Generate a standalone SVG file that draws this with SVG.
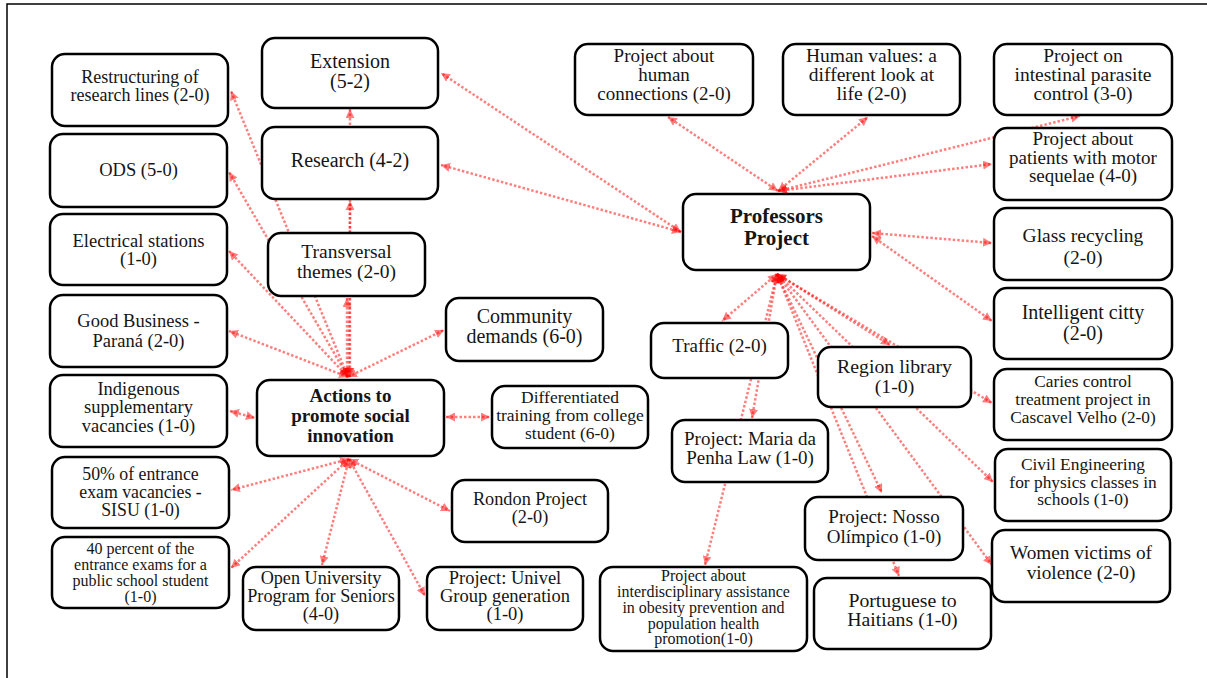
<svg xmlns="http://www.w3.org/2000/svg" width="1207" height="678" viewBox="0 0 1207 678">
<defs>
<style>
.n rect{fill:#fff;stroke:#000;stroke-width:2.5}
.n text{font-family:"Liberation Serif","Times New Roman",serif;fill:#151515;text-anchor:middle}
.b text{font-weight:bold}
#connectors line{stroke:#ff0000;stroke-opacity:0.5;stroke-width:2.5;stroke-dasharray:2.5 2;fill:none;marker-start:url(#a);marker-end:url(#a)}
.frame{stroke:#000;stroke-width:1.5;fill:none}
</style>
<marker id="a" viewBox="0 0 10 10" refX="10" refY="5" markerWidth="9" markerHeight="9" markerUnits="userSpaceOnUse" orient="auto-start-reverse">
<path d="M0,0 L10,5 L0,10 z" fill="#ff0000" fill-opacity="0.5"/>
</marker>
</defs>
<rect width="1207" height="678" fill="#fff"/>
<path class="frame" d="M7,678 L7,4 L1207,4"/>

<g id="connectors">
<!-- Actions top hub -->
<line x1="348" y1="377" x2="231" y2="91"/>
<line x1="348" y1="377" x2="229" y2="172"/>
<line x1="348" y1="377" x2="229" y2="251"/>
<line x1="348" y1="377" x2="229" y2="331"/>
<line x1="347" y1="377" x2="347" y2="298"/>
<line x1="349" y1="377" x2="350" y2="201"/>
<line x1="350" y1="377" x2="350" y2="109"/>
<line x1="348" y1="377" x2="444" y2="330"/>
<!-- Actions sides -->
<line x1="230" y1="411" x2="255" y2="418"/>
<line x1="446" y1="417" x2="490" y2="417"/>
<!-- Actions bottom hub -->
<line x1="349" y1="459" x2="231" y2="490"/>
<line x1="349" y1="459" x2="231" y2="568"/>
<line x1="349" y1="459" x2="322" y2="565"/>
<line x1="349" y1="459" x2="425" y2="596"/>
<line x1="349" y1="459" x2="450" y2="511"/>
<!-- Professors left -->
<line x1="681" y1="232" x2="441" y2="73"/>
<line x1="681" y1="232" x2="441" y2="165"/>
<!-- Professors top -->
<line x1="778" y1="191" x2="668" y2="117"/>
<line x1="778" y1="191" x2="868" y2="117"/>
<line x1="778" y1="191" x2="1080" y2="116"/>
<line x1="778" y1="191" x2="992" y2="164"/>
<!-- Professors right -->
<line x1="872" y1="233" x2="992" y2="243"/>
<line x1="872" y1="236" x2="992" y2="321"/>
<!-- Professors bottom hub -->
<line x1="777" y1="274" x2="722" y2="321"/>
<line x1="777" y1="274" x2="752" y2="418"/>
<line x1="777" y1="274" x2="705" y2="565"/>
<line x1="777" y1="274" x2="890" y2="345"/>
<line x1="777" y1="274" x2="992" y2="403"/>
<line x1="777" y1="274" x2="882" y2="493"/>
<line x1="777" y1="274" x2="899" y2="576"/>
<line x1="777" y1="274" x2="993" y2="482"/>
<line x1="777" y1="274" x2="992" y2="565"/>
</g>

<g id="n-extension" class="n"><rect x="262" y="38" width="176" height="70" rx="13"/><text font-size="20"><tspan x="350" y="68">Extension</tspan><tspan x="350" y="88">(5-2)</tspan></text></g>
<g id="n-research" class="n"><rect x="262" y="127" width="176" height="72" rx="13"/><text font-size="20" x="350" y="167">Research (4-2)</text></g>
<g id="n-restructuring" class="n"><rect x="52" y="54" width="176" height="72" rx="13"/><text font-size="18"><tspan x="140" y="83">Restructuring of</tspan><tspan x="140" y="101">research lines (2-0)</tspan></text></g>
<g id="n-ods" class="n"><rect x="50" y="134" width="177" height="73" rx="13"/><text font-size="18.5" x="138.5" y="176">ODS (5-0)</text></g>
<g id="n-electrical" class="n"><rect x="50" y="214" width="177" height="71" rx="13"/><text font-size="18.5"><tspan x="138.5" y="247">Electrical stations</tspan><tspan x="138.5" y="265">(1-0)</tspan></text></g>
<g id="n-transversal" class="n"><rect x="268" y="233" width="157" height="63" rx="13"/><text font-size="19.5"><tspan x="346.5" y="258">Transversal</tspan><tspan x="346.5" y="278">themes (2-0)</tspan></text></g>
<g id="n-goodbusiness" class="n"><rect x="50" y="295" width="177" height="72" rx="13"/><text font-size="18.5"><tspan x="138.5" y="327">Good Business -</tspan><tspan x="138.5" y="347">Paraná (2-0)</tspan></text></g>
<g id="n-indigenous" class="n"><rect x="50" y="375" width="177" height="72" rx="13"/><text font-size="18.5"><tspan x="138.5" y="395">Indigenous</tspan><tspan x="138.5" y="413">supplementary</tspan><tspan x="138.5" y="432">vacancies (1-0)</tspan></text></g>
<g id="n-actions" class="n b"><rect x="257" y="380" width="187" height="76" rx="13"/><text font-size="19"><tspan x="350.5" y="402">Actions to</tspan><tspan x="350.5" y="422">promote social</tspan><tspan x="350.5" y="442">innovation</tspan></text></g>
<g id="n-community" class="n"><rect x="446" y="298" width="157" height="63" rx="13"/><text font-size="20"><tspan x="524.5" y="323">Community</tspan><tspan x="524.5" y="343">demands (6-0)</tspan></text></g>
<g id="n-differentiated" class="n"><rect x="492" y="386" width="156" height="62" rx="13"/><text font-size="17.5"><tspan x="570" y="403">Differentiated</tspan><tspan x="570" y="421">training from college</tspan><tspan x="570" y="439">student (6-0)</tspan></text></g>
<g id="n-rondon" class="n"><rect x="452" y="480" width="156" height="62" rx="13"/><text font-size="18.3"><tspan x="530" y="505">Rondon Project</tspan><tspan x="530" y="523">(2-0)</tspan></text></g>
<g id="n-fifty" class="n"><rect x="52" y="457" width="177" height="71" rx="13"/><text font-size="17.8"><tspan x="140.5" y="480">50% of entrance</tspan><tspan x="140.5" y="498">exam vacancies -</tspan><tspan x="140.5" y="516">SISU (1-0)</tspan></text></g>
<g id="n-forty" class="n"><rect x="52" y="537" width="177" height="71" rx="13"/><text font-size="16"><tspan x="140.5" y="554">40 percent of the</tspan><tspan x="140.5" y="570">entrance exams for a</tspan><tspan x="140.5" y="586">public school student</tspan><tspan x="140.5" y="602">(1-0)</tspan></text></g>
<g id="n-openuniversity" class="n"><rect x="243" y="567" width="156" height="63" rx="13"/><text font-size="18.2"><tspan x="321" y="584">Open University</tspan><tspan x="321" y="602">Program for Seniors</tspan><tspan x="321" y="620">(4-0)</tspan></text></g>
<g id="n-univel" class="n"><rect x="427" y="567" width="156" height="63" rx="13"/><text font-size="18.5"><tspan x="505" y="584">Project: Univel</tspan><tspan x="505" y="602">Group generation</tspan><tspan x="505" y="620">(1-0)</tspan></text></g>

<g id="n-humanconnections" class="n"><rect x="575" y="44" width="178" height="71" rx="13"/><text font-size="19"><tspan x="664" y="62">Project about</tspan><tspan x="664" y="81">human</tspan><tspan x="664" y="100">connections (2-0)</tspan></text></g>
<g id="n-humanvalues" class="n"><rect x="783" y="44" width="177" height="71" rx="13"/><text font-size="19.5"><tspan x="871.5" y="62">Human values: a</tspan><tspan x="871.5" y="81">different look at</tspan><tspan x="871.5" y="100">life (2-0)</tspan></text></g>
<g id="n-intestinal" class="n"><rect x="994" y="44" width="178" height="71" rx="13"/><text font-size="19.5"><tspan x="1083" y="62">Project on</tspan><tspan x="1083" y="81">intestinal parasite</tspan><tspan x="1083" y="100">control (3-0)</tspan></text></g>
<g id="n-motor" class="n"><rect x="994" y="128" width="178" height="72" rx="13"/><text font-size="19"><tspan x="1083" y="145">Project about</tspan><tspan x="1083" y="163.5">patients with motor</tspan><tspan x="1083" y="182">sequelae (4-0)</tspan></text></g>
<g id="n-professors" class="n b"><rect x="683" y="194" width="187" height="76" rx="13"/><text font-size="21"><tspan x="776.5" y="223">Professors</tspan><tspan x="776.5" y="245">Project</tspan></text></g>
<g id="n-glass" class="n"><rect x="994" y="208" width="178" height="72" rx="13"/><text font-size="19.5"><tspan x="1083" y="242">Glass recycling</tspan><tspan x="1083" y="264">(2-0)</tspan></text></g>
<g id="n-intelligent" class="n"><rect x="994" y="288" width="178" height="71" rx="13"/><text font-size="20"><tspan x="1083" y="319">Intelligent citty</tspan><tspan x="1083" y="340">(2-0)</tspan></text></g>
<g id="n-caries" class="n"><rect x="994" y="369" width="178" height="71" rx="13"/><text font-size="17.3"><tspan x="1083" y="387">Caries control</tspan><tspan x="1083" y="405">treatment project in</tspan><tspan x="1083" y="422.5">Cascavel Velho (2-0)</tspan></text></g>
<g id="n-civil" class="n"><rect x="995" y="449" width="176" height="72" rx="13"/><text font-size="17.4"><tspan x="1083" y="470">Civil Engineering</tspan><tspan x="1083" y="487.5">for physics classes in</tspan><tspan x="1083" y="504.5">schools (1-0)</tspan></text></g>
<g id="n-women" class="n"><rect x="992" y="530" width="178" height="72" rx="13"/><text font-size="19.3"><tspan x="1081" y="559">Women victims of</tspan><tspan x="1081" y="579">violence (2-0)</tspan></text></g>
<g id="n-portuguese" class="n"><rect x="814" y="578" width="177" height="71" rx="13"/><text font-size="19.8"><tspan x="902.5" y="607">Portuguese to</tspan><tspan x="902.5" y="626">Haitians (1-0)</tspan></text></g>
<g id="n-nosso" class="n"><rect x="805" y="497" width="158" height="63" rx="13"/><text font-size="19"><tspan x="884" y="523">Project: Nosso</tspan><tspan x="884" y="543">Olímpico (1-0)</tspan></text></g>
<g id="n-interdisciplinary" class="n"><rect x="600" y="567" width="207" height="84" rx="13"/><text font-size="16"><tspan x="703.5" y="581">Project about</tspan><tspan x="703.5" y="597">interdisciplinary assistance</tspan><tspan x="703.5" y="612.5">in obesity prevention and</tspan><tspan x="703.5" y="628.5">population health</tspan><tspan x="703.5" y="644">promotion(1-0)</tspan></text></g>
<g id="n-maria" class="n"><rect x="672" y="420" width="156" height="62" rx="13"/><text font-size="19"><tspan x="750" y="445">Project: Maria da</tspan><tspan x="750" y="464">Penha Law (1-0)</tspan></text></g>
<g id="n-traffic" class="n"><rect x="651" y="323" width="137" height="55" rx="13"/><text font-size="19" x="719.5" y="352">Traffic (2-0)</text></g>
<g id="n-region" class="n"><rect x="818" y="347" width="153" height="60" rx="13"/><text font-size="19.8"><tspan x="894.5" y="373">Region library</tspan><tspan x="894.5" y="393">(1-0)</tspan></text></g>
</svg>
